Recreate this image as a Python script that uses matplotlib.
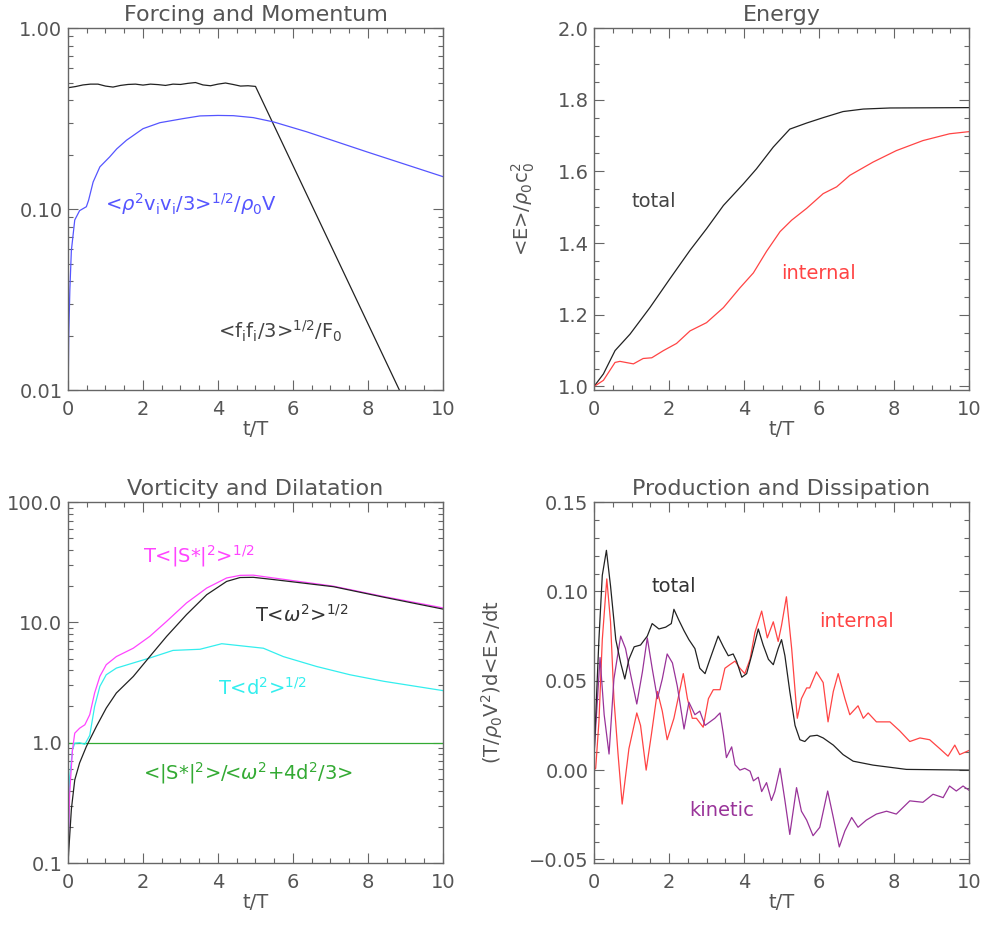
import numpy as np
import matplotlib
matplotlib.use('Agg')
import matplotlib.pyplot as plt
from matplotlib.ticker import MultipleLocator, LogLocator, FixedLocator, NullFormatter

# ---- Forcing and Momentum ----
force_t = [0.0, 0.2, 0.4, 0.6, 0.8, 1.0, 1.2, 1.4, 1.6, 1.8, 2.0, 2.2, 2.4, 2.6,
           2.8, 3.0, 3.2, 3.4, 3.6, 3.8, 4.0, 4.2, 4.4, 4.6, 4.8, 5.0, 10.0]
force_v = [0.468, 0.475, 0.485, 0.49, 0.49, 0.478, 0.472, 0.482, 0.488, 0.49,
           0.484, 0.49, 0.487, 0.482, 0.49, 0.488, 0.495, 0.5, 0.485, 0.48,
           0.49, 0.497, 0.488, 0.478, 0.48, 0.476, 0.0031]
mom_t = [0.0, 0.02, 0.05, 0.09, 0.18, 0.31, 0.49, 0.55, 0.67, 0.85, 1.11, 1.3,
         1.56, 2.0, 2.45, 3.07, 3.52, 4.0, 4.41, 4.94, 5.48, 6.37, 7.97, 10.0]
mom_v = [0.008, 0.02, 0.036, 0.059, 0.087, 0.098, 0.103, 0.112, 0.141, 0.171,
         0.194, 0.215, 0.24, 0.278, 0.30, 0.316, 0.327, 0.329, 0.328, 0.32,
         0.303, 0.267, 0.207, 0.151]

# ---- Energy ----
etot_t = [0.0, 0.25, 0.56, 0.96, 1.49, 2.02, 2.56, 3.0, 3.45, 3.98, 4.33, 4.78,
          5.22, 5.67, 6.11, 6.64, 7.18, 7.89, 10.0]
etot_v = [1.0, 1.035, 1.10, 1.146, 1.22, 1.30, 1.38, 1.44, 1.505, 1.565, 1.607,
          1.668, 1.718, 1.735, 1.75, 1.767, 1.774, 1.777, 1.778]
eint_t = [0.0, 0.25, 0.56, 0.69, 1.05, 1.31, 1.54, 1.85, 2.2, 2.56, 3.0, 3.45,
          3.89, 4.25, 4.6, 4.96, 5.27, 5.67, 6.11, 6.47, 6.82, 7.44, 8.06,
          8.77, 9.48, 10.0]
eint_v = [1.0, 1.017, 1.067, 1.07, 1.063, 1.078, 1.08, 1.10, 1.12, 1.155,
          1.178, 1.22, 1.275, 1.317, 1.377, 1.432, 1.464, 1.497, 1.538, 1.557,
          1.589, 1.626, 1.658, 1.686, 1.705, 1.711]

# ---- Vorticity and Dilatation ----
strain_t = [0.0, 0.045, 0.12, 0.18, 0.31, 0.45, 0.58, 0.71, 0.85, 1.02, 1.29,
            1.74, 2.18, 2.63, 3.16, 3.7, 4.23, 4.59, 4.94, 5.48, 7.08, 8.42, 10.0]
strain_v = [0.1, 0.38, 0.875, 1.2, 1.32, 1.41, 1.71, 2.59, 3.56, 4.45, 5.2,
            6.1, 7.65, 10.2, 14.5, 19.3, 23.4, 24.6, 24.7, 23.4, 20.0, 16.4, 13.2]
vort_t = [0.0, 0.09, 0.18, 0.31, 0.49, 0.76, 1.02, 1.29, 1.74, 2.18, 2.63,
          3.16, 3.7, 4.23, 4.59, 4.94, 5.48, 7.08, 8.42, 10.0]
vort_v = [0.1, 0.28, 0.49, 0.68, 0.93, 1.37, 1.94, 2.59, 3.55, 5.2, 7.65,
          11.6, 17.0, 21.9, 23.6, 23.7, 22.7, 19.8, 16.2, 12.9]
dil_t = [0.0, 0.045, 0.12, 0.18, 0.31, 0.45, 0.58, 0.71, 0.85, 1.02, 1.29,
         1.74, 2.18, 2.8, 3.52, 4.1, 4.59, 5.21, 5.74, 6.63, 7.52, 8.42, 10.0]
dil_v = [0.1, 0.52, 0.875, 0.99, 1.0, 0.97, 1.15, 2.0, 2.94, 3.67, 4.17,
         4.6, 5.06, 5.85, 5.98, 6.65, 6.4, 6.1, 5.2, 4.3, 3.67, 3.24, 2.71]
ratio_t = [0.0, 10.0]
ratio_v = [1.0, 1.0]

# ---- Production and Dissipation ----
ptot_t = [0.0, 0.044, 0.13, 0.22, 0.33, 0.44, 0.58, 0.71, 0.82, 0.93,
          1.07, 1.24, 1.42, 1.55, 1.73, 1.91, 2.06, 2.13, 2.26, 2.4,
          2.53, 2.69, 2.82, 2.96, 3.09, 3.31, 3.45, 3.58, 3.71, 3.8,
          3.94, 4.07, 4.2, 4.38, 4.51, 4.65, 4.78, 4.91, 5.0, 5.09,
          5.22, 5.36, 5.49, 5.62, 5.76, 5.95, 6.11, 6.38, 6.64, 6.91,
          7.44, 8.33, 10.0]
ptot_v = [0.007, 0.03, 0.073, 0.109, 0.123, 0.103, 0.073, 0.060, 0.051, 0.062,
          0.069, 0.070, 0.075, 0.082, 0.079, 0.080, 0.082, 0.090, 0.084, 0.078,
          0.073, 0.068, 0.057, 0.054, 0.062, 0.075, 0.069, 0.064, 0.065, 0.061,
          0.052, 0.054, 0.064, 0.079, 0.070, 0.062, 0.059, 0.068, 0.073, 0.064,
          0.044, 0.025, 0.017, 0.016, 0.019, 0.0195, 0.018, 0.014, 0.0087, 0.005,
          0.0028, 0.0004, 0.0]
pint_t = [0.0, 0.044, 0.13, 0.22, 0.34, 0.44, 0.53, 0.64, 0.75, 0.93,
          1.14, 1.24, 1.39, 1.53, 1.69, 1.82, 1.95, 2.13, 2.26, 2.38,
          2.49, 2.62, 2.73, 2.91, 3.05, 3.18, 3.36, 3.49, 3.62, 3.76,
          3.89, 4.02, 4.16, 4.29, 4.47, 4.62, 4.78, 4.91, 5.0, 5.13,
          5.27, 5.42, 5.53, 5.67, 5.75, 5.93, 6.11, 6.24, 6.38, 6.51,
          6.69, 6.82, 7.04, 7.18, 7.31, 7.53, 7.89, 8.15, 8.42, 8.69,
          8.95, 9.22, 9.44, 9.62, 9.75, 10.0]
pint_v = [0.0, 0.001, 0.027, 0.073, 0.107, 0.083, 0.040, 0.009, -0.019, 0.012,
          0.032, 0.025, 0.0, 0.02, 0.044, 0.033, 0.017, 0.029, 0.042, 0.054,
          0.040, 0.029, 0.029, 0.024, 0.040, 0.045, 0.045, 0.057, 0.059, 0.061,
          0.057, 0.054, 0.062, 0.077, 0.089, 0.074, 0.083, 0.072, 0.081, 0.097,
          0.068, 0.029, 0.040, 0.046, 0.046, 0.055, 0.049, 0.027, 0.044, 0.054,
          0.040, 0.031, 0.036, 0.029, 0.032, 0.027, 0.027, 0.022, 0.016, 0.018,
          0.017, 0.012, 0.0078, 0.014, 0.0087, 0.011]
pkin_t = [0.0, 0.16, 0.27, 0.4, 0.53, 0.71, 0.84, 0.98, 1.14, 1.29,
          1.42, 1.55, 1.69, 1.82, 1.95, 2.09, 2.22, 2.4, 2.53, 2.69,
          2.82, 2.96, 3.09, 3.22, 3.36, 3.45, 3.53, 3.67, 3.76, 3.89,
          4.02, 4.16, 4.25, 4.38, 4.47, 4.6, 4.73, 4.82, 4.96, 5.09,
          5.22, 5.4, 5.53, 5.67, 5.84, 6.02, 6.23, 6.38, 6.54, 6.69,
          6.87, 7.04, 7.26, 7.53, 7.8, 8.06, 8.42, 8.77, 9.04, 9.31,
          9.48, 9.66, 9.84, 10.0]
pkin_v = [0.009, 0.063, 0.031, 0.009, 0.051, 0.075, 0.068, 0.053, 0.037, 0.055,
          0.074, 0.057, 0.040, 0.051, 0.065, 0.060, 0.047, 0.023, 0.038, 0.031,
          0.033, 0.025, 0.027, 0.029, 0.032, 0.020, 0.007, 0.013, 0.003, 0.0,
          0.001, -0.0006, -0.006, -0.004, -0.012, -0.007, -0.017, -0.012, 0.001, -0.017,
          -0.036, -0.0098, -0.023, -0.028, -0.0367, -0.032, -0.0117, -0.0265, -0.043, -0.034,
          -0.0265, -0.032, -0.028, -0.0246, -0.023, -0.0246, -0.0172, -0.018, -0.0135, -0.0154,
          -0.0089, -0.0117, -0.0089, -0.0113]

TXT = '#555555'
FS = 14
plt.rcParams['font.family'] = 'DejaVu Sans'
plt.rcParams['mathtext.fontset'] = 'dejavusans'
plt.rcParams['text.color'] = TXT
plt.rcParams['axes.labelcolor'] = TXT

fig = plt.figure(figsize=(9.84, 9.26), dpi=100)
ax1 = fig.add_axes([0.0691, 0.5788, 0.3811, 0.3909])
ax2 = fig.add_axes([0.6037, 0.5788, 0.3811, 0.3909])
ax3 = fig.add_axes([0.0691, 0.0680, 0.3811, 0.3898])
ax4 = fig.add_axes([0.6037, 0.0680, 0.3811, 0.3898])


def style(ax, title):
    ax.set_xlim(0, 10)
    ax.xaxis.set_major_locator(MultipleLocator(2))
    ax.xaxis.set_minor_locator(MultipleLocator(0.5))
    ax.tick_params(which='both', direction='in', top=True, right=True,
                   colors='#666666', labelcolor=TXT, labelsize=FS, width=0.8)
    ax.tick_params(which='major', length=7)
    ax.tick_params(which='minor', length=3.5)
    ax.tick_params(axis='x', pad=7)
    ax.tick_params(axis='y', pad=4)
    for s in ax.spines.values():
        s.set_color('#666666')
        s.set_linewidth(1.0)
    ax.set_title(title, fontsize=16, color=TXT, pad=5)
    ax.set_xlabel('t/T', fontsize=FS, labelpad=1)


LW = 0.9

# Forcing and Momentum
ax1.plot(force_t, force_v, color='#222222', lw=LW)
ax1.plot(mom_t, mom_v, color='#5555ff', lw=LW)
ax1.set_yscale('log')
ax1.set_ylim(0.01, 1.0)
ax1.yaxis.set_major_locator(FixedLocator([0.01, 0.1, 1.0]))
ax1.yaxis.set_minor_locator(LogLocator(subs=np.arange(2, 10)))
ax1.yaxis.set_minor_formatter(NullFormatter())
ax1.set_yticklabels(['0.01', '0.10', '1.00'])
style(ax1, 'Forcing and Momentum')
ax1.text(1.0, 0.107, r'<$\rho^2$v$_\mathrm{i}$v$_\mathrm{i}$/3>$^{1/2}$/$\rho_0$V',
         color='#5555ff', fontsize=FS, va='center', ha='left')
ax1.text(4.0, 0.021, r'<f$_\mathrm{i}$f$_\mathrm{i}$/3>$^{1/2}$/F$_0$',
         color='#444444', fontsize=FS, va='center', ha='left')

# Energy
ax2.plot(etot_t, etot_v, color='#222222', lw=LW)
ax2.plot(eint_t, eint_v, color='#ff4444', lw=LW)
ax2.set_ylim(0.99, 2.0)
ax2.yaxis.set_major_locator(FixedLocator([1.0, 1.2, 1.4, 1.6, 1.8, 2.0]))
ax2.yaxis.set_minor_locator(MultipleLocator(0.05))
ax2.set_yticklabels(['1.0', '1.2', '1.4', '1.6', '1.8', '2.0'])
style(ax2, 'Energy')
ax2.set_ylabel(r'<E>/$\rho_0$c$_0^2$', fontsize=FS)
ax2.yaxis.set_label_coords(-0.152, 0.5)
ax2.text(1.0, 1.516, 'total', color='#444444', fontsize=FS, va='center', ha='left')
ax2.text(5.0, 1.314, 'internal', color='#ff4444', fontsize=FS, va='center', ha='left')

# Vorticity and Dilatation
ax3.plot(ratio_t, ratio_v, color='#33aa33', lw=LW)
ax3.plot(dil_t, dil_v, color='#33eeee', lw=LW)
ax3.plot(strain_t, strain_v, color='#ff44ff', lw=LW)
ax3.plot(vort_t, vort_v, color='#222222', lw=LW)
ax3.set_yscale('log')
ax3.set_ylim(0.1, 100.0)
ax3.yaxis.set_major_locator(FixedLocator([0.1, 1.0, 10.0, 100.0]))
ax3.yaxis.set_minor_locator(LogLocator(subs=np.arange(2, 10)))
ax3.yaxis.set_minor_formatter(NullFormatter())
ax3.set_yticklabels(['0.1', '1.0', '10.0', '100.0'])
style(ax3, 'Vorticity and Dilatation')
ax3.text(2.0, 35.3, r'T<|S*|$^2$>$^{1/2}$', color='#ff44ff', fontsize=FS,
         va='center', ha='left')
ax3.text(5.0, 11.6, r'T<$\omega^2$>$^{1/2}$', color='#333333', fontsize=FS,
         va='center', ha='left')
ax3.text(4.0, 2.84, r'T<d$^2$>$^{1/2}$', color='#33eeee', fontsize=FS,
         va='center', ha='left')
ax3.text(2.0, 0.56, r'<|S*|$^2$>/<$\omega^2$+4d$^2$/3>', color='#33aa33',
         fontsize=FS, va='center', ha='left')

# Production and Dissipation
ax4.plot(pint_t, pint_v, color='#ff4444', lw=LW)
ax4.plot(pkin_t, pkin_v, color='#993399', lw=LW)
ax4.plot(ptot_t, ptot_v, color='#222222', lw=LW)
ax4.set_ylim(-0.052, 0.15)
ax4.yaxis.set_major_locator(FixedLocator([-0.05, 0.0, 0.05, 0.10, 0.15]))
ax4.yaxis.set_minor_locator(MultipleLocator(0.01))
ax4.set_yticklabels(['\u22120.05', '0.00', '0.05', '0.10', '0.15'])
style(ax4, 'Production and Dissipation')
ax4.set_ylabel(r'(T/$\rho_0$V$^2$)d<E>/dt', fontsize=FS)
ax4.yaxis.set_label_coords(-0.237, 0.5)
ax4.text(1.52, 0.103, 'total', color='#333333', fontsize=FS, va='center', ha='left')
ax4.text(6.0, 0.083, 'internal', color='#ff4444', fontsize=FS, va='center', ha='left')
ax4.text(2.53, -0.0225, 'kinetic', color='#993399', fontsize=FS, va='center', ha='left')

fig.savefig('out.png', dpi=100)
